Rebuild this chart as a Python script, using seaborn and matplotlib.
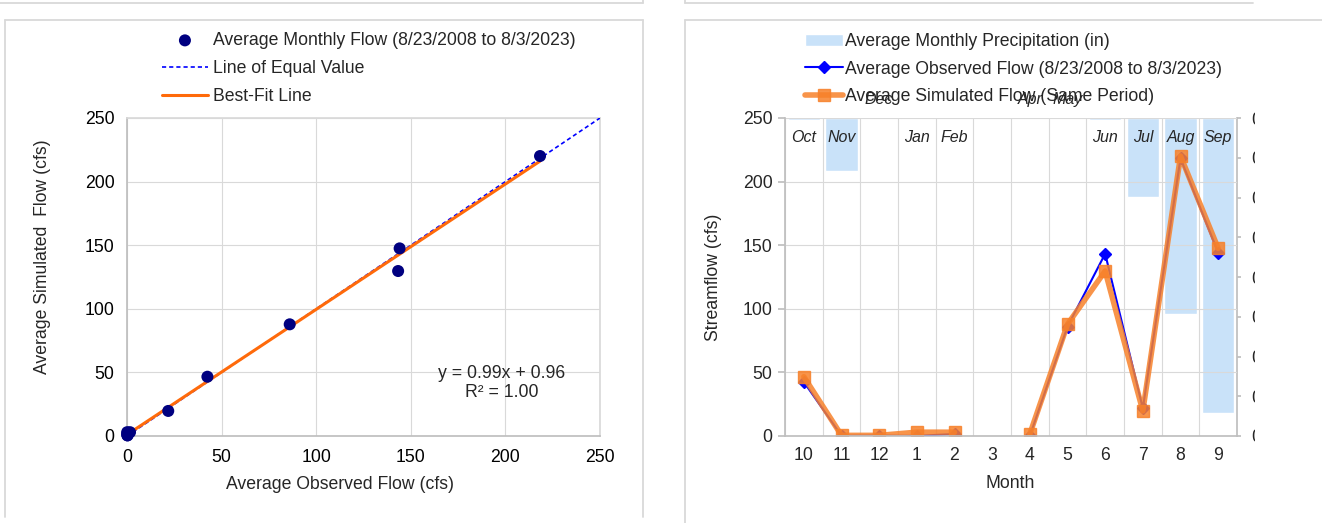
import numpy as np
import pandas as pd
import matplotlib
matplotlib.use('Agg')
import matplotlib.pyplot as plt
import seaborn as sns
from matplotlib.lines import Line2D
from matplotlib.transforms import Bbox

# data
months = ['10', '11', '12', '1', '2', '3', '4', '5', '6', '7', '8', '9']
month_names = ['Oct', 'Nov', 'Dec', 'Jan', 'Feb', 'Mar', 'Apr', 'May', 'Jun', 'Jul', 'Aug', 'Sep']
obs_flow = [42.5, 0.2, 0.3, 0.1, 1.6, np.nan, 0.1, 86.0, 143.3, 21.8, 218.3, 144.1]
sim_flow = [46.6, 0.5, 0.5, 3.0, 3.0, np.nan, 1.6, 87.8, 129.7, 19.7, 220.1, 147.5]
precip = [0.006, 0.133, 0.0, 0.003, 0.003, np.nan, 0.0, 0.0, 0.005, 0.198, 0.493, 0.743]
fit_text = 'y = 0.99x + 0.96\nR² = 1.00'

df = pd.DataFrame({'month': months, 'name': month_names, 'obs': obs_flow,
                   'sim': sim_flow, 'precip': precip})
pairs = df.dropna(subset=['obs', 'sim'])

sns.set_theme(style='white')
plt.rcParams['font.family'] = ['Liberation Sans', 'DejaVu Sans']
FS = 12.7
plt.rcParams['font.size'] = FS

W, H = 1322, 523
fig = plt.figure(figsize=(W / 100, H / 100), dpi=100)
grid_c = '#D9D9D9'
axis_c = '#BFBFBF'


def fx(x):
    return x / W


def fy(y):
    return 1 - y / H


# panel frames (screenshot of two chart boxes)
for (x0, y0, x1, y1) in [(0, 3, 643, 3), (643, 0, 643, 3), (685, 0, 685, 3), (685, 3, 1253, 3),
                         (5, 20, 643, 20), (5, 20, 5, 517), (643, 20, 643, 517),
                         (685, 20, 1322, 20), (685, 20, 685, 523)]:
    fig.add_artist(Line2D([fx(x0), fx(x1)], [fy(y0), fy(y1)], color=grid_c, lw=1.3))

# ---------------- left: scatter ----------------
ax1 = fig.add_axes([fx(127), fy(436), fx(600) - fx(127), fy(118) - fy(436)])
sns.scatterplot(data=pairs, x='obs', y='sim', ax=ax1, color='#000080', s=75, edgecolor='none',
                clip_on=False, zorder=5, label='Average Monthly Flow (8/23/2008 to 8/3/2023)')
ax1.axline((0, 0), slope=1, color='#0000FF', ls=(0, (2.5, 1.8)), lw=1.2, label='Line of Equal Value',
           zorder=3)
sns.regplot(data=pairs, x='obs', y='sim', ax=ax1, scatter=False, ci=None, truncate=True,
            color='#FF6A0A', line_kws=dict(lw=2.2, zorder=4), label='Best-Fit Line')
ax1.set_xlim(0, 250)
ax1.set_ylim(0, 250)
ax1.set_xticks(range(0, 251, 50))
ax1.set_yticks(range(0, 251, 50))
ax1.grid(True, color=grid_c, lw=0.8)
for s in ax1.spines.values():
    s.set_color(grid_c)
ax1.spines['left'].set_color(axis_c)
ax1.spines['bottom'].set_color(axis_c)
ax1.tick_params(length=5, color=axis_c, labelsize=FS, pad=4, labelcolor='black')
ax1.set_xlabel('Average Observed Flow (cfs)', fontsize=FS)
ax1.set_ylabel('Average Simulated  Flow (cfs)', fontsize=FS)
ax1.xaxis.label.set_va('center')
ax1.yaxis.label.set_va('center')
ax1.xaxis.set_label_coords(0.45, -0.154)
ax1.yaxis.set_label_coords(-0.178, 0.563)
ax1.text(198, 41.7, fit_text, ha='center', va='center', fontsize=FS, linespacing=1.15)
h1, l1 = ax1.get_legend_handles_labels()
if ax1.get_legend():
    ax1.get_legend().remove()
fig.legend(h1, l1, loc='upper left', bbox_to_anchor=(fx(162), fy(32)), frameon=False,
           fontsize=FS, handlelength=2.6, handletextpad=0.28, labelspacing=0.62, borderpad=0,
           borderaxespad=0)

# ---------------- right: monthly flows + precipitation ----------------
ax2 = fig.add_axes([fx(785), fy(436), fx(1237) - fx(785), fy(118) - fy(436)])
ax2b = ax2.twinx()
sns.barplot(data=df, x='month', y='precip', ax=ax2b, color='#C9E2F9', width=0.85, saturation=1,
            label='Average Monthly Precipitation (in)')
ax2b.set_ylim(0.8, 0)
ax2b.set_yticks(np.arange(0, 0.81, 0.1))
ax2b.set_yticklabels([f'{v:.1f}' for v in np.arange(0, 0.81, 0.1)])
ax2b.tick_params(axis='y', length=3, color=axis_c, pad=7.5, labelsize=FS)
ax2b.set_ylabel('')
ax2b.set_xlabel('')
# the screenshot cuts the secondary-axis labels off
clip = Bbox.from_extents(0, 0, 1254.5, H)
for t in ax2b.yaxis.get_major_ticks():
    t.label2.set_clip_on(True)
    t.label2.set_clip_box(clip)
for s in ax2b.spines.values():
    s.set_visible(False)
ax2b.spines['right'].set_visible(True)
ax2b.spines['right'].set_color(axis_c)

ax2.set_zorder(ax2b.get_zorder() + 1)
ax2.patch.set_visible(False)
xpos = np.arange(len(months))
ax2.plot(xpos, df['obs'], color='#0000FF', lw=1.5, marker='D', ms=6,
         label='Average Observed Flow (8/23/2008 to 8/3/2023)')
ax2.plot(xpos, df['sim'], color='#F7812A', alpha=0.85, lw=4, marker='s', ms=8,
         label='Average Simulated Flow (Same Period)')
ax2.set_xlim(-0.5, 11.5)
ax2.set_ylim(0, 250)
ax2.set_yticks(range(0, 251, 50))
ax2.set_xticks(xpos)
ax2.set_xticklabels(months)
ax2.set_xticks(np.arange(-0.5, 12, 1), minor=True)
ax2.grid(True, axis='y', color=grid_c, lw=0.8)
ax2.grid(True, axis='x', which='minor', color=grid_c, lw=0.8)
ax2.grid(False, axis='x', which='major')
for s in ax2.spines.values():
    s.set_visible(False)
ax2.spines['left'].set_visible(True)
ax2.spines['bottom'].set_visible(True)
ax2.spines['left'].set_color(axis_c)
ax2.spines['bottom'].set_color(axis_c)
ax2.tick_params(axis='x', which='major', length=0, labelsize=FS, pad=8)
ax2.tick_params(axis='x', which='minor', length=5, color=axis_c)
ax2.tick_params(axis='y', length=5, color=axis_c, labelsize=FS, pad=4)
ax2.set_xlabel('Month', fontsize=FS)
ax2.set_ylabel('Streamflow (cfs)', fontsize=FS)
ax2.xaxis.label.set_va('center')
ax2.yaxis.label.set_va('center')
ax2.xaxis.set_label_coords(0.498, -0.148)
ax2.yaxis.set_label_coords(-0.159, 0.5)

# month name labels at the bar bases
for i, row in df.iterrows():
    if pd.isna(row['precip']):
        continue
    yy = 1.057 if row['precip'] == 0 else 0.94
    ax2.text(i, yy, row['name'], transform=ax2.get_xaxis_transform(), ha='center', va='center',
             fontsize=11.5, style='italic', clip_on=False)

h2, l2 = ax2b.get_legend_handles_labels()
h3, l3 = ax2.get_legend_handles_labels()
if ax2b.get_legend():
    ax2b.get_legend().remove()
fig.legend(h2 + h3, l2 + l3, loc='upper left', bbox_to_anchor=(fx(805), fy(33)), frameon=False,
           fontsize=FS, handlelength=2.15, handletextpad=0.1, labelspacing=0.6, borderpad=0,
           borderaxespad=0)

fig.savefig('out.png', dpi=100)
